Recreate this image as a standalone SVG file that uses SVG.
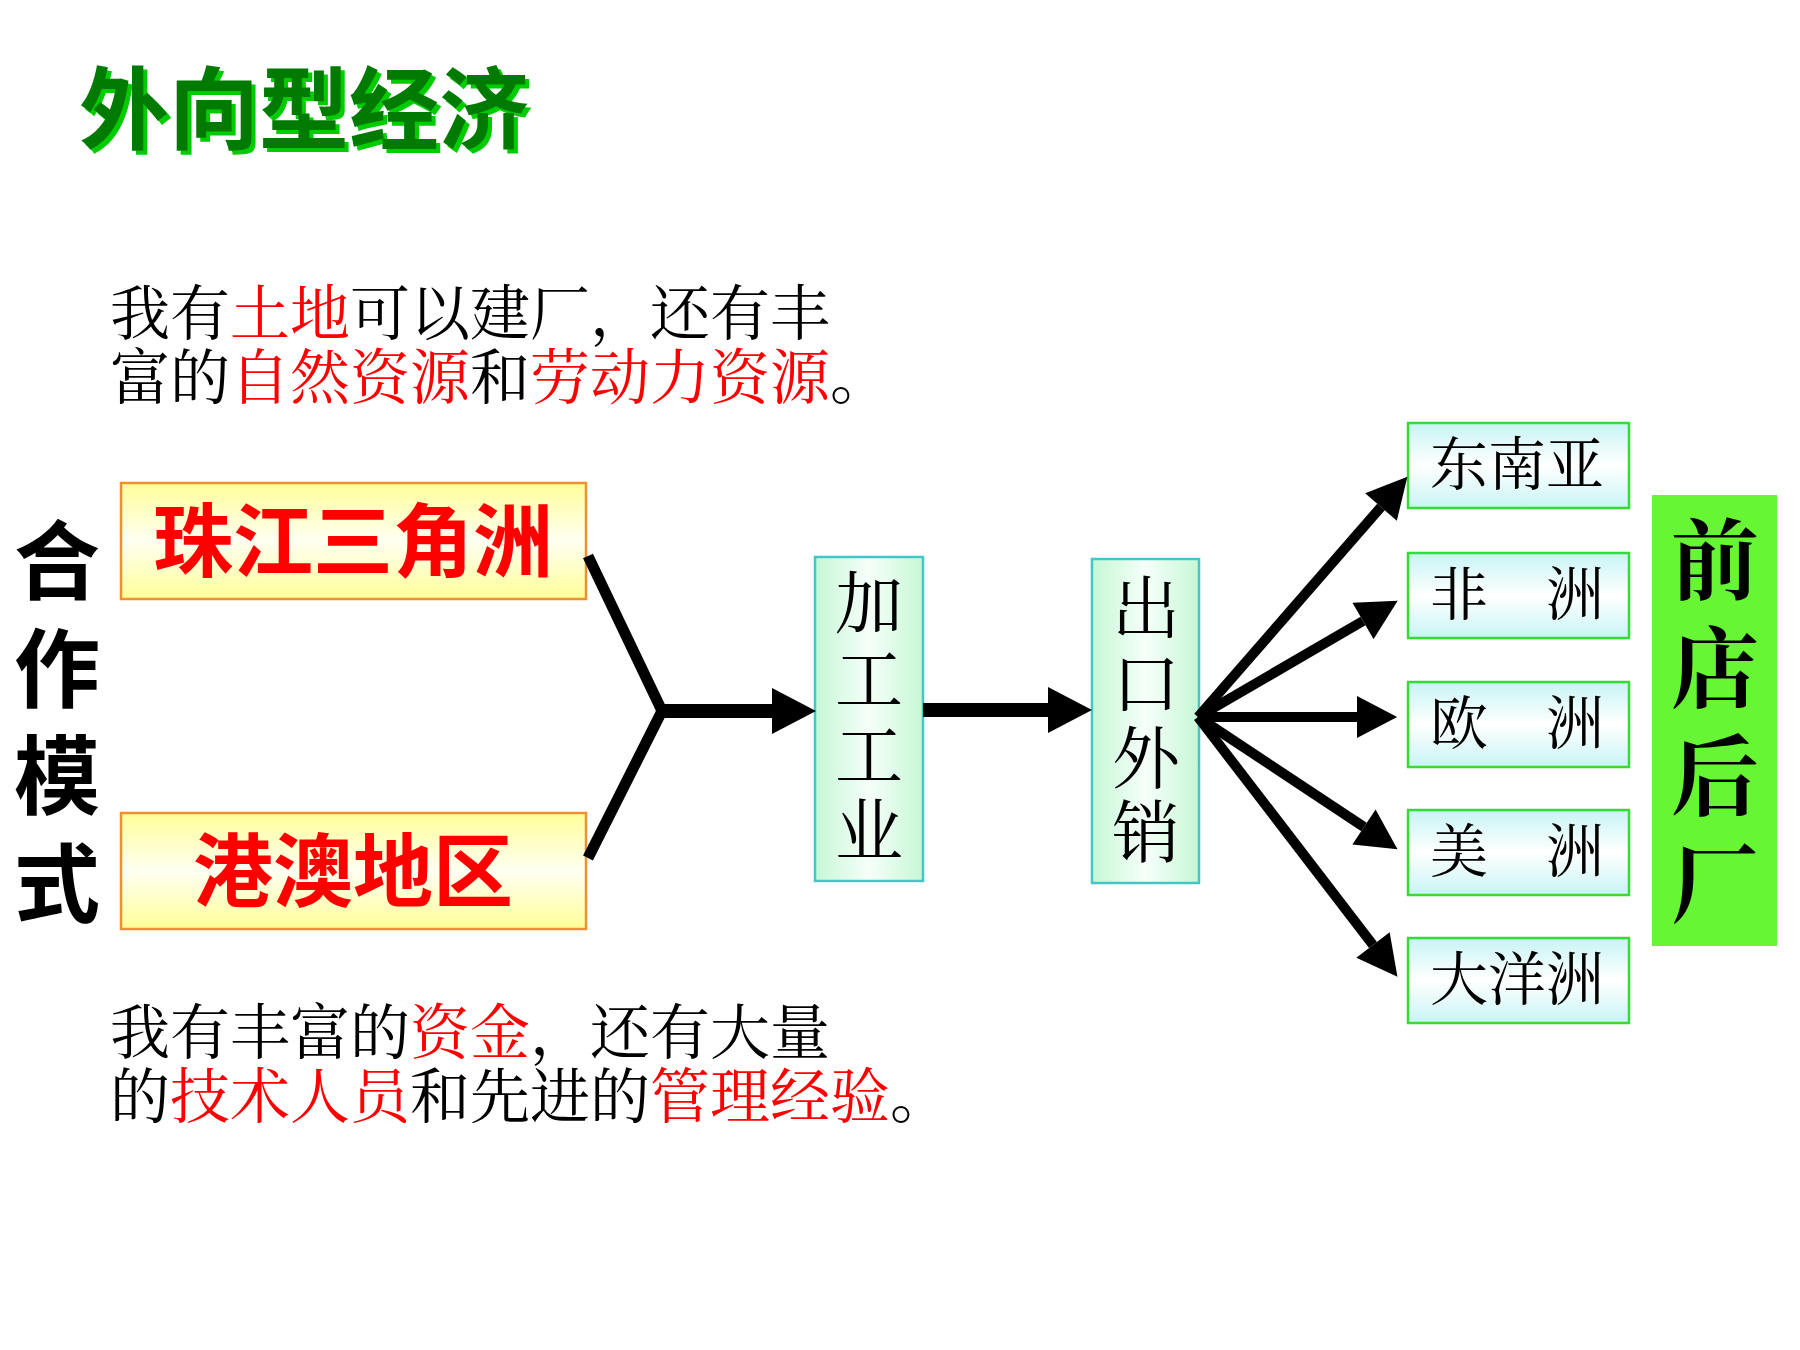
<svg xmlns="http://www.w3.org/2000/svg" width="1800" height="1350" viewBox="0 0 1800 1350">
  <style>
    .sans { font-family: "Noto Sans CJK SC", "Liberation Sans", sans-serif; }
    .serif { font-family: "Noto Serif CJK SC", "Noto Sans CJK SC", "Liberation Serif", serif; }
    .red { fill: #ff0000; }
    .blk { fill: #000000; }
    .yel { fill: url(#gYellow); stroke: #f0902c; stroke-width: 2.5; }
    .mint { fill: url(#gMint); stroke: #45c6c6; stroke-width: 2.5; }
    .cyan { fill: url(#gCyan); stroke: #33dd33; stroke-width: 2.5; }
    .conn { fill: none; stroke: #000000; }
  </style>
  <defs>
    <linearGradient id="gYellow" x1="0" y1="0" x2="0" y2="1">
      <stop offset="0" stop-color="#ffff99"/>
      <stop offset="0.5" stop-color="#fffff2"/>
      <stop offset="1" stop-color="#ffff99"/>
    </linearGradient>
    <linearGradient id="gMint" x1="0" y1="0" x2="1" y2="0">
      <stop offset="0" stop-color="#c6f7d6"/>
      <stop offset="0.5" stop-color="#f6fff9"/>
      <stop offset="1" stop-color="#c6f7d6"/>
    </linearGradient>
    <linearGradient id="gCyan" x1="0" y1="0" x2="0" y2="1">
      <stop offset="0" stop-color="#c8f4f4"/>
      <stop offset="0.5" stop-color="#ffffff"/>
      <stop offset="1" stop-color="#c8f4f4"/>
    </linearGradient>
    <filter id="shadow" x="-5%" y="-10%" width="115%" height="130%">
      <feOffset in="SourceAlpha" dx="4" dy="4" result="off"/>
      <feFlood flood-color="#00cc00" result="col"/>
      <feComposite in="col" in2="off" operator="in" result="sh"/>
      <feMerge>
        <feMergeNode in="sh"/>
        <feMergeNode in="SourceGraphic"/>
      </feMerge>
    </filter>
    <marker id="head" viewBox="0 0 44 46" refX="0" refY="23" markerWidth="44" markerHeight="46" markerUnits="userSpaceOnUse" orient="auto">
      <path d="M0,0 L44,23 L0,46 Z" fill="#000000"/>
    </marker>
    <marker id="headS" viewBox="0 0 44 46" refX="0" refY="23" markerWidth="42" markerHeight="42" markerUnits="userSpaceOnUse" orient="auto">
      <path d="M0,0 L44,23 L0,46 Z" fill="#000000"/>
    </marker>
  </defs>

  <rect x="0" y="0" width="1800" height="1350" fill="#ffffff"/>

  <!-- Title -->
  <g id="title" class="sans" font-size="90" font-weight="bold">
    <text x="79" y="142" fill="#007a00" filter="url(#shadow)">外向型经济</text>
  </g>

  <!-- Paragraph 1 -->
  <g id="text-top" class="serif" font-size="60">
    <text class="blk"><tspan x="110" y="335">我有<tspan class="red">土地</tspan>可以建厂，还有丰</tspan><tspan x="110" y="399">富的<tspan class="red">自然资源</tspan>和<tspan class="red">劳动力资源</tspan>。</tspan></text>
  </g>

  <!-- Paragraph 2 -->
  <g id="text-bottom" class="serif" font-size="60">
    <text class="blk"><tspan x="110" y="1054">我有丰富的<tspan class="red">资金</tspan>，还有大量</tspan><tspan x="110" y="1118">的<tspan class="red">技术人员</tspan>和先进的<tspan class="red">管理经验</tspan>。</tspan></text>
  </g>

  <!-- 合作模式 -->
  <g id="label-hezuo" class="sans blk" font-size="86" font-weight="bold" text-anchor="middle">
    <text><tspan x="57" y="593">合</tspan><tspan x="57" y="701">作</tspan><tspan x="57" y="808">模</tspan><tspan x="57" y="916">式</tspan></text>
  </g>

  <!-- 珠江三角洲 -->
  <g id="node-zhujiang">
    <rect x="121" y="483" width="465" height="116" class="yel"/>
    <text x="353" y="570" class="sans red" font-size="80" font-weight="bold" text-anchor="middle">珠江三角洲</text>
  </g>

  <!-- 港澳地区 -->
  <g id="node-gangao">
    <rect x="121" y="813" width="465" height="116" class="yel"/>
    <text x="353" y="900" class="sans red" font-size="80" font-weight="bold" text-anchor="middle">港澳地区</text>
  </g>

  <!-- 加工工业 -->
  <g id="node-jiagong" class="serif blk" font-size="68" text-anchor="middle">
    <rect x="815" y="557" width="108" height="324" class="mint"/>
    <text><tspan x="869" y="628">加</tspan><tspan x="869" y="704">工</tspan><tspan x="869" y="780">工</tspan><tspan x="869" y="855">业</tspan></text>
  </g>

  <!-- 出口外销 -->
  <g id="node-chukou" class="serif blk" font-size="68" text-anchor="middle">
    <rect x="1092" y="559" width="107" height="324" class="mint"/>
    <text><tspan x="1146" y="633">出</tspan><tspan x="1146" y="708">口</tspan><tspan x="1146" y="783">外</tspan><tspan x="1146" y="857">销</tspan></text>
  </g>

  <!-- Destination boxes -->
  <g id="node-dongnanya">
    <rect x="1408" y="423" width="221" height="85" class="cyan"/>
    <text x="1430" y="485" class="serif blk" font-size="58">东南亚</text>
  </g>
  <g id="node-feizhou">
    <rect x="1408" y="553" width="221" height="85" class="cyan"/>
    <text x="1430" y="615" class="serif blk" font-size="58">非　洲</text>
  </g>
  <g id="node-ouzhou">
    <rect x="1408" y="682" width="221" height="85" class="cyan"/>
    <text x="1430" y="744" class="serif blk" font-size="58">欧　洲</text>
  </g>
  <g id="node-meizhou">
    <rect x="1408" y="810" width="221" height="85" class="cyan"/>
    <text x="1430" y="872" class="serif blk" font-size="58">美　洲</text>
  </g>
  <g id="node-dayangzhou">
    <rect x="1408" y="938" width="221" height="85" class="cyan"/>
    <text x="1430" y="1000" class="serif blk" font-size="58">大洋洲</text>
  </g>

  <!-- 前店后厂 -->
  <g id="node-qiandian" class="serif blk" font-size="88" font-weight="bold" text-anchor="middle">
    <rect x="1652" y="495" width="125" height="451" fill="#66f633"/>
    <text><tspan x="1715" y="592">前</tspan><tspan x="1715" y="700">店</tspan><tspan x="1715" y="808">后</tspan><tspan x="1715" y="916">厂</tspan></text>
  </g>

  <!-- Connectors -->
  <g id="connectors" class="conn">
    <polyline points="588,556 662,711 588,858" stroke-width="11" stroke-linejoin="miter" stroke-miterlimit="10"/>
    <line x1="660" y1="711" x2="772" y2="711" stroke-width="14" marker-end="url(#head)"/>
    <line x1="923" y1="710" x2="1048" y2="710" stroke-width="14" marker-end="url(#head)"/>
    <line x1="1198" y1="717" x2="1381" y2="507" stroke-width="10" marker-end="url(#headS)"/>
    <line x1="1198" y1="717" x2="1363" y2="621" stroke-width="10" marker-end="url(#headS)"/>
    <line x1="1198" y1="717" x2="1357" y2="717" stroke-width="10" marker-end="url(#headS)"/>
    <line x1="1198" y1="717" x2="1364" y2="827" stroke-width="10" marker-end="url(#headS)"/>
    <line x1="1198" y1="717" x2="1373" y2="945" stroke-width="10" marker-end="url(#headS)"/>
  </g>
</svg>
